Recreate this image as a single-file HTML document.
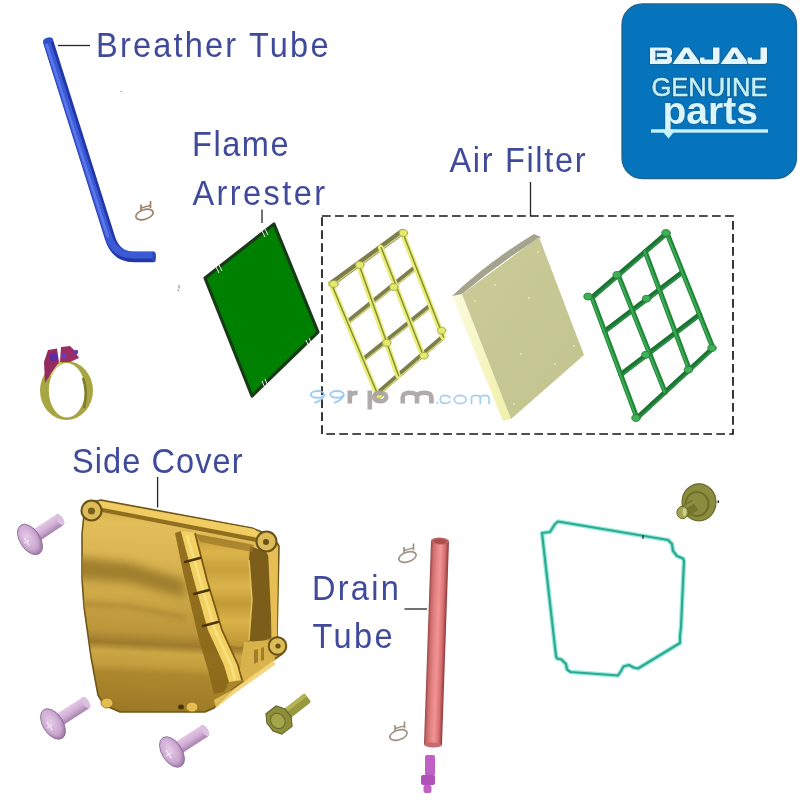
<!DOCTYPE html>
<html><head><meta charset="utf-8">
<style>
html,body{margin:0;padding:0;background:#fff;}
svg{display:block;will-change:transform;}
.lbl{font-family:"Liberation Sans",sans-serif;font-size:35px;fill:#3f4a9a;}
</style></head><body>
<svg width="800" height="800" viewBox="0 0 800 800">
<defs>
<linearGradient id="tubeB" x1="0" y1="0" x2="1" y2="0">
<stop offset="0" stop-color="#2a44b8"/><stop offset="0.45" stop-color="#4a6ae2"/><stop offset="1" stop-color="#2440b0"/>
</linearGradient>
<linearGradient id="tubeR" x1="0" y1="0" x2="1" y2="0">
<stop offset="0" stop-color="#9a4646"/><stop offset="0.15" stop-color="#cc6c6c"/><stop offset="0.35" stop-color="#e48484"/><stop offset="0.55" stop-color="#f29494"/><stop offset="0.8" stop-color="#d87070"/><stop offset="1" stop-color="#8a3a3a"/>
</linearGradient>
<linearGradient id="gold" x1="0" y1="0" x2="0" y2="1">
<stop offset="0" stop-color="#d8ae40"/><stop offset="0.25" stop-color="#e6c050"/><stop offset="0.35" stop-color="#b88a28"/>
<stop offset="0.45" stop-color="#d8b048"/><stop offset="0.6" stop-color="#c89a30"/><stop offset="0.7" stop-color="#e0b848"/>
<stop offset="0.85" stop-color="#b88c28"/><stop offset="1" stop-color="#a07818"/>
</linearGradient>
<linearGradient id="pad" x1="0" y1="0" x2="1" y2="1">
<stop offset="0" stop-color="#cacb98"/><stop offset="1" stop-color="#c2c48e"/>
</linearGradient>
<linearGradient id="padside" x1="0" y1="0" x2="1" y2="0">
<stop offset="0" stop-color="#fbfbe0"/><stop offset="1" stop-color="#f0f0a8"/>
</linearGradient>
<radialGradient id="screwHead" cx="0.45" cy="0.4" r="0.6">
<stop offset="0" stop-color="#e6cce8"/><stop offset="0.7" stop-color="#caa6d0"/><stop offset="1" stop-color="#9a78a2"/>
</radialGradient>
<linearGradient id="screwShaft" x1="0" y1="0" x2="0" y2="1">
<stop offset="0" stop-color="#e4c8e6"/><stop offset="0.5" stop-color="#d2b0d6"/><stop offset="1" stop-color="#a682ac"/>
</linearGradient>
</defs>
<rect width="800" height="800" fill="#fff"/>

<rect x="622" y="4" width="174.5" height="174.5" rx="20.5" ry="20.5" fill="#0574bc" stroke="#1f6490" stroke-width="1.3"/>
<g fill="#e4f6fc" stroke="#135d8c" stroke-width="1.6" paint-order="stroke" stroke-linejoin="round">
<path d="M650,47.5 H667 Q672,47.5 672,51.5 V53.5 Q672,55.5 670,56 Q672,56.5 672,58.5 V60 Q672,64 667,64 H650 Z"/>
<path d="M672.5,64 L684,47.5 H689 L701,64 Z M686.5,52.5 L683,59 H690 Z" fill-rule="evenodd"/>
<path d="M713,47.5 H719.5 V61 Q719.5,64 716.5,64 H702.5 Q700,64 700,61.5 V57.5 H704.5 V59.5 H713 Z"/>
<path d="M720.5,64 L732,47.5 H737 L749,64 Z M734.5,52.5 L731,59 H738 Z" fill-rule="evenodd"/>
<path d="M760.5,47.5 H767 V61 Q767,64 764,64 H750 Q747.5,64 747.5,61.5 V57.5 H752 V59.5 H760.5 Z"/>
</g>
<g fill="#15609a">
<rect x="655.5" y="50.6" width="11.5" height="2.5"/>
<rect x="655.5" y="56.9" width="11.5" height="2.2"/>
<rect x="655.5" y="50.6" width="1.3" height="10"/>
</g>
<text x="651.5" y="96.4" font-family="Liberation Sans" font-size="25.8" fill="#c4f0fa" textLength="116" lengthAdjust="spacingAndGlyphs" stroke="#135d8c" stroke-width="2.4">GENUINE</text>
<text x="651.5" y="96.4" font-family="Liberation Sans" font-size="25.8" fill="#c4f0fa" textLength="116" lengthAdjust="spacingAndGlyphs" stroke="#c4f0fa" stroke-width="0.5">GENUINE</text>
<text x="662.5" y="123.8" font-family="Liberation Sans" font-weight="bold" font-size="38" fill="#d8f6fc" textLength="95.5" lengthAdjust="spacingAndGlyphs" stroke="#16609a" stroke-width="1.4" paint-order="stroke">parts</text>
<rect x="651" y="129.3" width="117" height="3.4" fill="#c8f2fa"/>
<path d="M661,129.5 h15 l-7.5,9 z" fill="#c8f2fa"/>

<g class="lbl">
<text transform="translate(96.00,56.5) scale(0.93,1)" textLength="250.00" lengthAdjust="spacing">Breather Tube</text>
<text transform="translate(192.00,155.5) scale(0.93,1)" textLength="103.76" lengthAdjust="spacing">Flame</text>
<text transform="translate(192.50,204.8) scale(0.93,1)" textLength="142.47" lengthAdjust="spacing">Arrester</text>
<text transform="translate(449.50,171.5) scale(0.93,1)" textLength="146.24" lengthAdjust="spacing">Air Filter</text>
<text transform="translate(72.00,472.5) scale(0.93,1)" textLength="183.33" lengthAdjust="spacing">Side Cover</text>
<text transform="translate(312.00,599.7) scale(0.93,1)" textLength="93.28" lengthAdjust="spacing">Drain</text>
<text transform="translate(312.50,648.1) scale(0.93,1)" textLength="86.02" lengthAdjust="spacing">Tube</text>
</g>
<g stroke="#262626" stroke-width="1.3" fill="none">
<line x1="58" y1="45.5" x2="90" y2="45.5"/>
<line x1="262" y1="209.5" x2="262" y2="223"/>
<line x1="530.5" y1="182" x2="530.5" y2="216"/>
<line x1="157.6" y1="477" x2="157.6" y2="507.5"/>
<line x1="404.5" y1="609" x2="427" y2="609"/>
</g>
<rect x="322" y="216" width="411" height="218" fill="none" stroke="#141414" stroke-width="1.7" stroke-dasharray="8.7 4.3"/>

<path d="M48,41 L110,238 Q116,257 134,257 L154,257" fill="none" stroke="#2238a8" stroke-width="10.5" stroke-linejoin="round"/>
<path d="M47,42 L109,238 Q115,255 134,255 L154,255" fill="none" stroke="#3d5ad6" stroke-width="7"/>
<path d="M46.5,44 L108,237" fill="none" stroke="#5a78ea" stroke-width="2.5"/>
<ellipse cx="48" cy="40.5" rx="5.2" ry="3" fill="#3050c8" transform="rotate(-17 48 40.5)"/>
<ellipse cx="154" cy="257" rx="2" ry="5.2" fill="#2d4bc0"/>

<g fill="none" stroke="#9c8068" stroke-width="1.7">
<ellipse cx="144.5" cy="214.5" rx="9" ry="4.8" transform="rotate(-18 144.5 214.5)"/>
<path d="M141.0,210.5 v-6 M150.5,208.0 v-7 M141.5,208.0 Q145.5,206.5 150.5,205.5"/>
</g>
<g fill="none" stroke="#a09484" stroke-width="1.7">
<ellipse cx="407.5" cy="557" rx="9" ry="4.8" transform="rotate(-18 407.5 557)"/>
<path d="M404.0,553 v-6 M413.5,550.5 v-7 M404.5,550.5 Q408.5,549 413.5,548"/>
</g>
<g fill="none" stroke="#a09484" stroke-width="1.7">
<ellipse cx="398.5" cy="735" rx="9" ry="4.8" transform="rotate(-18 398.5 735)"/>
<path d="M395.0,731 v-6 M404.5,728.5 v-7 M395.5,728.5 Q399.5,727 404.5,726"/>
</g>
<polygon points="274,224 318,332 252,396 205,278" fill="#008000" stroke="#173a17" stroke-width="3.2" stroke-linejoin="round"/>
<g stroke="#f0f0f0" stroke-width="1">
<line x1="216" y1="267" x2="219" y2="273"/><line x1="219" y1="265" x2="222" y2="271"/>
<line x1="262" y1="231" x2="265" y2="237"/><line x1="265" y1="229" x2="268" y2="235"/>
<line x1="262" y1="381" x2="265" y2="388"/><line x1="265" y1="379" x2="268" y2="386"/>
<line x1="306" y1="340" x2="309" y2="347"/><line x1="309" y1="338" x2="312" y2="345"/>
</g>

<g stroke-linecap="round"><line x1="331.0" y1="284.0" x2="402.0" y2="232.0" stroke="#7e7e4c" stroke-width="6"/>
<line x1="331.3" y1="286.0" x2="402.3" y2="234.0" stroke="#d8dc70" stroke-width="1.2"/>
<line x1="347.1" y1="322.5" x2="415.7" y2="267.2" stroke="#7e7e4c" stroke-width="5"/>
<line x1="347.4" y1="324.5" x2="416.0" y2="269.2" stroke="#d8dc70" stroke-width="1.2"/>
<line x1="362.7" y1="359.9" x2="430.7" y2="305.5" stroke="#7e7e4c" stroke-width="5"/>
<line x1="363.0" y1="361.9" x2="431.0" y2="307.5" stroke="#d8dc70" stroke-width="1.2"/>
<line x1="377.0" y1="394.0" x2="443.0" y2="337.0" stroke="#7e7e4c" stroke-width="5"/>
<line x1="377.3" y1="396.0" x2="443.3" y2="339.0" stroke="#d8dc70" stroke-width="1.2"/>
<line x1="331.0" y1="284.0" x2="377.0" y2="394.0" stroke="#e8ee78" stroke-width="5.5"/>
<line x1="331.5" y1="284.0" x2="377.5" y2="394.0" stroke="#84883a" stroke-width="1.4"/>
<line x1="358.3" y1="264.0" x2="398.1" y2="375.8" stroke="#e8ee78" stroke-width="5.5"/>
<line x1="358.8" y1="264.0" x2="398.6" y2="375.8" stroke="#84883a" stroke-width="1.4"/>
<line x1="380.7" y1="247.6" x2="422.5" y2="354.7" stroke="#e8ee78" stroke-width="5.5"/>
<line x1="381.2" y1="247.6" x2="423.0" y2="354.7" stroke="#84883a" stroke-width="1.4"/>
<line x1="402.0" y1="232.0" x2="443.0" y2="337.0" stroke="#e8ee78" stroke-width="5.5"/>
<line x1="402.5" y1="232.0" x2="443.5" y2="337.0" stroke="#84883a" stroke-width="1.4"/>
<ellipse cx="333.9" cy="284.0" rx="4.2" ry="3.4" fill="#e6ea6a" stroke="#9a9e4c" stroke-width="0.8"/>
<ellipse cx="359.8" cy="265.0" rx="4.2" ry="3.4" fill="#e6ea6a" stroke="#9a9e4c" stroke-width="0.8"/>
<ellipse cx="403.5" cy="233.0" rx="4.2" ry="3.4" fill="#e6ea6a" stroke="#9a9e4c" stroke-width="0.8"/>
<ellipse cx="393.9" cy="287.0" rx="4.2" ry="3.4" fill="#e6ea6a" stroke="#9a9e4c" stroke-width="0.8"/>
<ellipse cx="386.7" cy="342.9" rx="4.2" ry="3.4" fill="#e6ea6a" stroke="#9a9e4c" stroke-width="0.8"/>
<ellipse cx="424.0" cy="355.7" rx="4.2" ry="3.4" fill="#e6ea6a" stroke="#9a9e4c" stroke-width="0.8"/>
<ellipse cx="441.6" cy="330.6" rx="4.2" ry="3.4" fill="#e6ea6a" stroke="#9a9e4c" stroke-width="0.8"/>
<ellipse cx="378.5" cy="395.0" rx="4.2" ry="3.4" fill="#e6ea6a" stroke="#9a9e4c" stroke-width="0.8"/></g>
<polygon points="452,296 462,294 511,419 503,421" fill="url(#padside)"/>
<path d="M452,296 Q488,262 534,234 L541,237 Q500,262 462,294 Z" fill="#a4a48e"/>
<polygon points="462,294 539,237 584,355 511,419" fill="url(#pad)"/>
<g fill="#e8e8c0">
<circle cx="538" cy="252" r="0.9"/><circle cx="495" cy="285" r="0.9"/><circle cx="529" cy="298" r="0.9"/>
<circle cx="475" cy="301" r="0.9"/><circle cx="521" cy="354" r="0.9"/><circle cx="574" cy="346" r="0.9"/>
<circle cx="555" cy="364" r="0.9"/><circle cx="514" cy="404" r="0.9"/>
</g>

<g stroke-linecap="round"><line x1="592.0" y1="297.5" x2="667.0" y2="233.0" stroke="#1c7434" stroke-width="5"/>
<line x1="592.4" y1="298.9" x2="667.4" y2="234.4" stroke="#2a9044" stroke-width="1.6"/>
<line x1="604.6" y1="331.2" x2="682.6" y2="272.1" stroke="#1c7434" stroke-width="5"/>
<line x1="605.0" y1="332.6" x2="683.0" y2="273.5" stroke="#2a9044" stroke-width="1.6"/>
<line x1="620.8" y1="374.6" x2="699.7" y2="314.6" stroke="#1c7434" stroke-width="5"/>
<line x1="621.2" y1="376.0" x2="700.1" y2="316.0" stroke="#2a9044" stroke-width="1.6"/>
<line x1="637.0" y1="418.0" x2="713.0" y2="348.0" stroke="#1c7434" stroke-width="5"/>
<line x1="637.4" y1="419.4" x2="713.4" y2="349.4" stroke="#2a9044" stroke-width="1.6"/>
<line x1="592.0" y1="297.5" x2="637.0" y2="418.0" stroke="#1f8638" stroke-width="5"/>
<line x1="591.4" y1="297.5" x2="636.4" y2="418.0" stroke="#3eaa56" stroke-width="2"/>
<line x1="618.2" y1="274.9" x2="665.1" y2="392.1" stroke="#1f8638" stroke-width="5"/>
<line x1="617.6" y1="274.9" x2="664.5" y2="392.1" stroke="#3eaa56" stroke-width="2"/>
<line x1="645.2" y1="251.7" x2="689.4" y2="369.7" stroke="#1f8638" stroke-width="5"/>
<line x1="644.6" y1="251.7" x2="688.8" y2="369.7" stroke="#3eaa56" stroke-width="2"/>
<line x1="667.0" y1="233.0" x2="713.0" y2="348.0" stroke="#1f8638" stroke-width="5"/>
<line x1="666.4" y1="233.0" x2="712.4" y2="348.0" stroke="#3eaa56" stroke-width="2"/>
<ellipse cx="588.0" cy="296.5" rx="4.2" ry="3.4" fill="#40b058" stroke="#1f7a34" stroke-width="0.8"/>
<ellipse cx="617.2" cy="274.9" rx="4.2" ry="3.4" fill="#40b058" stroke="#1f7a34" stroke-width="0.8"/>
<ellipse cx="666.0" cy="233.0" rx="4.2" ry="3.4" fill="#40b058" stroke="#1f7a34" stroke-width="0.8"/>
<ellipse cx="636.0" cy="418.0" rx="4.2" ry="3.4" fill="#40b058" stroke="#1f7a34" stroke-width="0.8"/>
<ellipse cx="688.4" cy="369.7" rx="4.2" ry="3.4" fill="#40b058" stroke="#1f7a34" stroke-width="0.8"/>
<ellipse cx="712.0" cy="348.0" rx="4.2" ry="3.4" fill="#40b058" stroke="#1f7a34" stroke-width="0.8"/>
<ellipse cx="646.5" cy="298.7" rx="4.2" ry="3.4" fill="#40b058" stroke="#1f7a34" stroke-width="0.8"/>
<ellipse cx="645.8" cy="354.8" rx="4.2" ry="3.4" fill="#40b058" stroke="#1f7a34" stroke-width="0.8"/></g>
<g fill="none" stroke-linecap="round" opacity="0.9">
<g stroke="#96c8ee" stroke-width="1.9">
<ellipse cx="317.5" cy="394.4" rx="6.8" ry="3.4"/><path d="M324.2,395.4 Q322,400.5 315.2,402.6"/>
<ellipse cx="337" cy="394.4" rx="6.8" ry="3.4"/><path d="M343.7,395.4 Q341.5,400.5 334.7,402.6"/>
</g>
<g stroke="#a9a1a1" stroke-width="4.6" stroke-linecap="butt">
<path d="M349.8,390.5 V403.6 M349.8,397 Q350.3,392.8 357.6,392.8"/>
<path d="M369.8,390.5 V409.5"/><ellipse cx="380.2" cy="397" rx="6.1" ry="4.3"/>
<path d="M402.7,403.6 V397.5 Q402.7,392.8 409.9,392.8 Q417,392.8 417,397.5 V403.6 M417,397.5 Q417,392.8 424.2,392.8 Q431.4,392.8 431.4,397.5 V403.6"/>
</g>
<g stroke="#9ccbee" stroke-width="1.7">
<path d="M450,397.3 Q448,395.3 445,395.3 Q440.3,395.3 440.3,399.5 Q440.3,403.4 445,403.4 Q448,403.4 450,401.6"/>
<ellipse cx="460.2" cy="399.5" rx="6" ry="4.1"/>
<path d="M471.5,403.6 V398.2 Q471.5,395.4 475.8,395.4 Q480.3,395.4 480.3,398.2 V403.6 M480.3,398.2 Q480.3,395.4 484.6,395.4 Q489,395.4 489,398.2 V403.6"/>
</g>
<circle cx="437.3" cy="403" r="1.1" fill="#9ccbee"/>
</g>

<path d="M40,390.5 A26.5,29.5 0 1,0 93,390.5 A26.5,29.5 0 1,0 40,390.5 Z M48.8,390.3 A18.1,27.2 0 1,1 85,390.3 A18.1,27.2 0 1,1 48.8,390.3 Z" fill="#a8a642" fill-rule="evenodd"/>
<path d="M51,376 Q54,366 62,363.5" fill="none" stroke="#d4d474" stroke-width="2"/>
<path d="M83,378 Q88,392 84,408" fill="none" stroke="#7c7c2a" stroke-width="2.5"/>
<path d="M45,383 L44,362 L48,350 L57,348.5 L59,362 L52,372 Z" fill="#922c60"/>
<path d="M60,362 L61,347 L70,346 L74,350 L79,358 L70,362 Z" fill="#9a2e64"/>
<circle cx="53.5" cy="357" r="4" fill="#5a2aa8"/><circle cx="64" cy="356" r="2.5" fill="#6a40c0"/><circle cx="76" cy="352" r="2.2" fill="#5a3ac0"/>

<defs>
<linearGradient id="goldL" gradientUnits="userSpaceOnUse" x1="100" y1="505" x2="90" y2="712">
<stop offset="0" stop-color="#d2aa44"/><stop offset="0.08" stop-color="#e2be5a"/><stop offset="0.22" stop-color="#dcb654"/>
<stop offset="0.42" stop-color="#d0aa48"/><stop offset="0.52" stop-color="#c29c3e"/><stop offset="0.6" stop-color="#bc963a"/>
<stop offset="0.66" stop-color="#9e7a2c"/><stop offset="0.7" stop-color="#cca644"/><stop offset="0.76" stop-color="#c49e3c"/>
<stop offset="0.8" stop-color="#ae882e"/><stop offset="0.88" stop-color="#a6822a"/><stop offset="1" stop-color="#9a7824"/>
</linearGradient>
<filter id="blur5" x="-20%" y="-50%" width="140%" height="200%"><feGaussianBlur stdDeviation="4.5"/></filter>
<filter id="blur2" x="-20%" y="-50%" width="140%" height="200%"><feGaussianBlur stdDeviation="2"/></filter>
<clipPath id="coverClip"><path d="M84,514 L92,502 L101,500 L252,528 L262,532 L272,535 L279,546 L277,636 L284,643 L282,654 L272,661 L232,690 L214,708 L205,712 L180,712 L120,712 L104,705 L98,695 L91,657 L84,607 L82,579 L82,534 Z"/></clipPath>
<linearGradient id="goldP" gradientUnits="userSpaceOnUse" x1="0" y1="535" x2="0" y2="650">
<stop offset="0" stop-color="#c49a34"/><stop offset="0.15" stop-color="#dcb44c"/><stop offset="0.3" stop-color="#c8a03a"/>
<stop offset="0.45" stop-color="#dcb44c"/><stop offset="0.6" stop-color="#c29a36"/><stop offset="0.75" stop-color="#dab24a"/>
<stop offset="1" stop-color="#b89030"/>
</linearGradient>
<linearGradient id="rib" gradientUnits="userSpaceOnUse" x1="176" y1="0" x2="196" y2="-6">
<stop offset="0" stop-color="#f2d064"/><stop offset="0.5" stop-color="#e0b84a"/><stop offset="1" stop-color="#b08624"/>
</linearGradient>
</defs>
<path d="M84,514 L92,502 L101,500 L252,528 L262,532 L272,535 L279,546 L277,636 L284,643 L282,654 L272,661 L232,690 L214,708 L205,712 L180,712 L120,712 L104,705 L98,695 L91,657 L84,607 L82,579 L82,534 Z" fill="url(#goldL)" stroke="#6e5618" stroke-width="1.6" stroke-linejoin="round"/>
<g clip-path="url(#coverClip)">
<path d="M70,556 L130,563 L185,580 L185,598 L130,583 L70,578 Z" fill="#9a7a2c" filter="url(#blur5)" opacity="0.9"/>
<path d="M70,600 L130,604 L185,615 L185,620 L130,609 L70,606 Z" fill="#b08a34" filter="url(#blur2)" opacity="0.8"/>
</g>
<path d="M99,501 L254,529 L262,535 L258,538 L99,507 Z" fill="#f0cc62"/>
<path d="M97,507 L258,538 L256,542 L97,511 Z" fill="#7c5c12" opacity="0.8"/>
<path d="M196,534 L252,544 L250,560 L253,600 L250,640 L240,647 L228,645 L222,630 L207,580 Z" fill="url(#goldP)"/>
<path d="M250,546 L266,552 L271,560 L271,638 L256,644 L249,640 L252,600 L249,560 Z" fill="#7c5e1a"/>
<path d="M249,560 L252,600 L249,640" fill="none" stroke="#f0cc64" stroke-width="1.6" opacity="0.8"/>
<path d="M196,534 L254,545 L252,552 L200,542 Z" fill="#9a7826" opacity="0.7"/>
<path d="M268,550 L278,548 L277,636 L272,638 Z" fill="#e6be54"/>
<path d="M175,533 L181,531 L194,580 L208,630 L224,665 L229,682 L224,692 L214,694 L208,670 L199,640 L191,606 L183,572 Z" fill="#8a681a" opacity="0.9"/>
<path d="M181,531 L195,533 L207,580 L222,630 L238,665 L242,680 L229,682 L224,665 L208,630 L194,580 Z" fill="url(#rib)"/>
<path d="M187,535 L200,580 L215,630 L231,665 L235,680" fill="none" stroke="#f8e27e" stroke-width="2.5"/>
<path d="M195,533 L207,580 L222,630 L238,665 L242,680" fill="none" stroke="#7a5a14" stroke-width="1.8"/>
<g stroke="#4a3406" stroke-width="2.4" stroke-linecap="round">
<line x1="185" y1="562" x2="200" y2="558"/><line x1="194" y1="594" x2="209" y2="590"/><line x1="203" y1="626" x2="218" y2="622"/>
</g>
<path d="M244,642 L272,640 L275,660 L244,682 L240,670 Z" fill="#d8b24a"/>
<path d="M254,650 L258,649 L258,662 L254,664 Z M261,648 L264,647 L264,660 L261,661 Z" fill="#8a6818" opacity="0.7"/>
<path d="M214,700 L232,690 L272,661 L276,664 L234,694 L216,708 Z" fill="#f0cc60" opacity="0.8"/>
<circle cx="91.5" cy="510.5" r="10" fill="#dcbc58" stroke="#6a5216" stroke-width="2"/>
<circle cx="91.5" cy="511" r="3.6" fill="#7a6020"/>
<circle cx="266.5" cy="541.5" r="10" fill="#dcbc58" stroke="#6a5216" stroke-width="2"/>
<circle cx="266" cy="542" r="3" fill="#6a5018"/>
<circle cx="277.5" cy="646" r="8.8" fill="#dcbc58" stroke="#6a5216" stroke-width="2"/>
<circle cx="278" cy="646" r="2.6" fill="#6a5018"/>
<ellipse cx="192" cy="707" rx="6" ry="5" fill="#e4bc50" stroke="#8c6a18" stroke-width="0.8"/>
<ellipse cx="107" cy="703" rx="6" ry="5" fill="#e4bc50" stroke="#8c6a18" stroke-width="0.8"/>
<ellipse cx="181" cy="707" rx="3" ry="2.5" fill="#4a3406"/>

<g transform="translate(30,539.5) rotate(-33.5)">
<rect x="2" y="-6.5" width="35.2" height="13" rx="3" fill="url(#screwShaft)"/>
<ellipse cx="36.2" cy="0" rx="3" ry="6.5" fill="#dcc0e0"/>
<ellipse cx="0" cy="0" rx="10" ry="17" fill="url(#screwHead)" stroke="#8a6a92" stroke-width="0.8"/>
<path d="M-4,-5 L-4,5 M-7,0 L-1,0" stroke="#f0e0f4" stroke-width="1.5"/>
</g>
<g transform="translate(53,724) rotate(-32.9)">
<rect x="2" y="-6.5" width="38.5" height="13" rx="3" fill="url(#screwShaft)"/>
<ellipse cx="39.5" cy="0" rx="3" ry="6.5" fill="#dcc0e0"/>
<ellipse cx="0" cy="0" rx="10" ry="17" fill="url(#screwHead)" stroke="#8a6a92" stroke-width="0.8"/>
<path d="M-4,-5 L-4,5 M-7,0 L-1,0" stroke="#f0e0f4" stroke-width="1.5"/>
</g>
<g transform="translate(172,752) rotate(-32.9)">
<rect x="2" y="-6.5" width="38.5" height="13" rx="3" fill="url(#screwShaft)"/>
<ellipse cx="39.5" cy="0" rx="3" ry="6.5" fill="#dcc0e0"/>
<ellipse cx="0" cy="0" rx="10" ry="17" fill="url(#screwHead)" stroke="#8a6a92" stroke-width="0.8"/>
<path d="M-4,-5 L-4,5 M-7,0 L-1,0" stroke="#f0e0f4" stroke-width="1.5"/>
</g>
<g transform="translate(281,718.5) rotate(-38)">
<rect x="4" y="-5.5" width="30" height="11" rx="2" fill="#98983e"/>
<rect x="4" y="-5.5" width="30" height="4" fill="#b4b456"/>
<polygon points="-14,-5 -9,-13 4,-13 9,-5 9,5 4,13 -9,13 -14,5" fill="#8e8e3a" stroke="#5e5e22" stroke-width="1"/>
<ellipse cx="-4" cy="0" rx="7" ry="8" fill="#a4a44a" stroke="#6a6a2a" stroke-width="1"/>
</g>
<ellipse cx="699" cy="502.3" rx="17" ry="18.5" fill="#8c8c3e" stroke="#66662a" stroke-width="1.2"/>
<ellipse cx="697" cy="504" rx="11.5" ry="12" fill="none" stroke="#6e6e2c" stroke-width="2"/>
<line x1="695" y1="505" x2="683.5" y2="512" stroke="#74742e" stroke-width="12"/>
<line x1="694" y1="502" x2="683" y2="508.5" stroke="#8e8e42" stroke-width="3"/>
<ellipse cx="682.5" cy="512.5" rx="5.6" ry="6.2" fill="#a4a450" stroke="#6a6a28" stroke-width="1"/>
<ellipse cx="684.5" cy="512" rx="2" ry="4" fill="#d8d8a0" opacity="0.8"/>
<rect x="717.5" y="500.5" width="1.6" height="2.4" fill="#222"/>

<path d="M542,533 L550,532 L555,524 L558,521.5 L668,540 L672,544 L673,551 L677,556 L683,558.5 L684,561 L681,627 L680,636 L680,643 L638,668.5 L633.5,667.5 L629,665 L623.5,666.5 L621,671 L618,675.5 L570.5,672 L567,669.5 L566,664 L561.5,659.5 L557,658.5 L556,656 Z" fill="none" stroke="#74e6d6" stroke-width="4.6" stroke-linejoin="round" opacity="0.75"/>
<path d="M542,533 L550,532 L555,524 L558,521.5 L668,540 L672,544 L673,551 L677,556 L683,558.5 L684,561 L681,627 L680,636 L680,643 L638,668.5 L633.5,667.5 L629,665 L623.5,666.5 L621,671 L618,675.5 L570.5,672 L567,669.5 L566,664 L561.5,659.5 L557,658.5 L556,656 Z" fill="none" stroke="#2ea88e" stroke-width="2.2" stroke-linejoin="round"/>
<line x1="643" y1="535" x2="643" y2="539" stroke="#222" stroke-width="1.2"/>

<g transform="translate(440,541) rotate(1.98)">
<rect x="-9" y="0" width="18" height="204" fill="url(#tubeR)"/>
<ellipse cx="0" cy="204" rx="9" ry="2.5" fill="#c46a6e"/>
<ellipse cx="0" cy="0" rx="9" ry="3.6" fill="#c06464"/>
<ellipse cx="0" cy="0.3" rx="6.5" ry="2.4" fill="#a84c4c"/>
</g>
<g fill="#c060c4">
<rect x="425" y="755" width="10" height="21" rx="2"/>
<rect x="421" y="775" width="14" height="10" rx="2" fill="#b050b8"/>
<rect x="423.5" y="785" width="8" height="8" rx="2"/>
</g>

<rect x="178.6" y="285" width="1" height="3.5" fill="#777"/><circle cx="178.4" cy="290.5" r="0.7" fill="#777"/><circle cx="121" cy="91.5" r="0.6" fill="#666"/>
</svg>
</body></html>
